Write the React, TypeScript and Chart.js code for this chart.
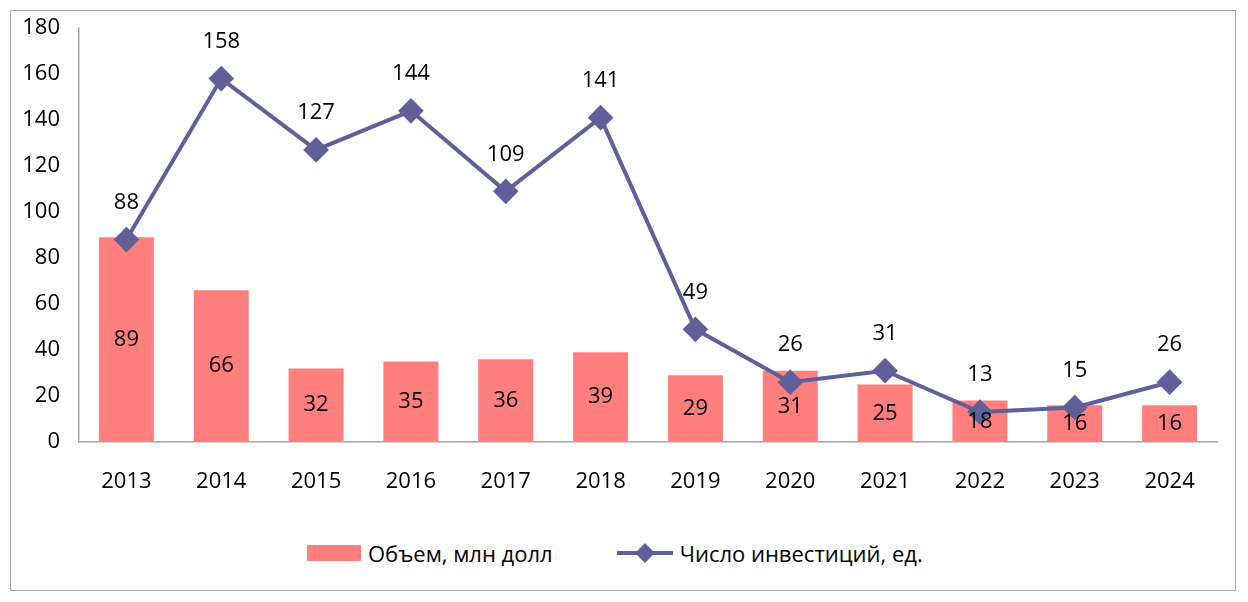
import { useEffect, useRef } from 'react'
import Chart from 'chart.js/auto'

const years = ['2013', '2014', '2015', '2016', '2017', '2018', '2019', '2020', '2021', '2022', '2023', '2024']
const volume = [89, 66, 32, 35, 36, 39, 29, 31, 25, 18, 16, 16]
const deals = [88, 158, 127, 144, 109, 141, 49, 26, 31, 13, 15, 26]

const BAR_COLOR = '#ff7f7f'
const LINE_COLOR = '#5f5f99'
const FONT = '"Open Sans", sans-serif'
const FONT_SIZE = 22

const valueLabels = {
  id: 'valueLabels',
  afterDatasetsDraw(chart: any) {
    const ctx = chart.ctx
    ctx.save()
    ctx.font = `${FONT_SIZE}px ${FONT}`
    ctx.fillStyle = '#000'
    ctx.textAlign = 'center'
    ctx.textBaseline = 'middle'
    chart.data.datasets.forEach((ds: any, di: number) => {
      const meta = chart.getDatasetMeta(di)
      meta.data.forEach((el: any, i: number) => {
        if (ds.type === 'bar') {
          ctx.fillText(String(ds.data[i]), el.x, (el.y + el.base) / 2)
        } else {
          ctx.fillText(String(ds.data[i]), el.x, el.y - 37)
        }
      })
    })
    ctx.restore()
  }
}

export default function App() {
  const chartRef = useRef<HTMLCanvasElement>(null)

  useEffect(() => {
    if (!chartRef.current) return

    const chart = new Chart(chartRef.current, {
      type: 'bar',
      data: {
        labels: years,
        datasets: [
          {
            type: 'line',
            label: 'Число инвестиций, ед.',
            data: deals,
            borderColor: LINE_COLOR,
            backgroundColor: LINE_COLOR,
            borderWidth: 4,
            pointStyle: 'rectRot',
            pointRadius: 10,
            pointBackgroundColor: LINE_COLOR,
            pointBorderColor: LINE_COLOR,
            order: 0
          },
          {
            type: 'bar',
            label: 'Объем, млн долл',
            data: volume,
            backgroundColor: BAR_COLOR,
            categoryPercentage: 1,
            barPercentage: 0.58,
            order: 1
          }
        ]
      },
      options: {
        animation: false,
        responsive: false,
        layout: {
          padding: { top: 17, right: 18, left: 0, bottom: 0 }
        },
        plugins: {
          legend: { display: false },
          tooltip: { enabled: false }
        },
        scales: {
          x: {
            grid: { display: false },
            border: { display: true, color: '#a6a6a6', width: 1.5 },
            ticks: {
              color: '#000',
              font: { family: FONT, size: FONT_SIZE },
              padding: 19
            },
            afterFit: (scale: any) => { scale.height = 89 }
          },
          y: {
            min: 0,
            max: 180,
            grid: { display: false },
            border: { display: true, color: '#a6a6a6', width: 1.5 },
            ticks: {
              stepSize: 20,
              color: '#000',
              font: { family: FONT, size: FONT_SIZE },
              padding: 11
            },
            afterFit: (scale: any) => {
              scale.width = 68
              scale.paddingTop = 0
              scale.paddingBottom = 0
            }
          }
        }
      },
      plugins: [valueLabels]
    })

    return () => chart.destroy()
  }, [])

  return (
    <div
      style={{
        position: 'relative',
        marginLeft: 2,
        marginTop: 2,
        width: 1224,
        height: 579,
        border: '1px solid #a6a6a6',
        fontFamily: FONT,
        background: '#fff'
      }}
    >
      <canvas ref={chartRef} width={1224} height={520}></canvas>
      <div
        style={{
          position: 'absolute',
          top: 527,
          left: 296,
          display: 'flex',
          alignItems: 'center',
          fontSize: FONT_SIZE,
          color: '#000',
          height: 30
        }}
      >
        <span style={{ width: 54, height: 16, background: BAR_COLOR, display: 'inline-block' }}></span>
        <span style={{ marginLeft: 7 }}>Объем, млн долл</span>
        <span style={{ position: 'relative', width: 56, height: 18, marginLeft: 64, display: 'inline-block' }}>
          <span style={{ position: 'absolute', left: 0, right: 0, top: 7, height: 4, background: LINE_COLOR }}></span>
          <span
            style={{
              position: 'absolute',
              left: 21,
              top: 2,
              width: 14,
              height: 14,
              background: LINE_COLOR,
              transform: 'rotate(45deg)'
            }}
          ></span>
        </span>
        <span style={{ marginLeft: 7 }}>Число инвестиций, ед.</span>
      </div>
    </div>
  )
}
